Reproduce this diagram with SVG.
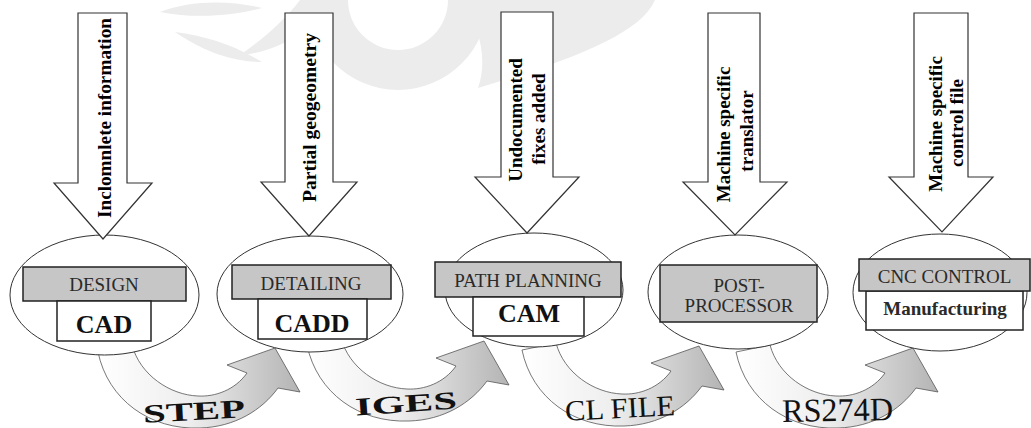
<svg xmlns="http://www.w3.org/2000/svg" width="1031" height="428" viewBox="0 0 1031 428" font-family="'Liberation Serif', 'DejaVu Serif', serif">
<defs>
<linearGradient id="flow" x1="0" y1="0" x2="1" y2="0">
<stop offset="0" stop-color="#ffffff"/>
<stop offset="0.45" stop-color="#eeeeee"/>
<stop offset="1" stop-color="#b4b4b4"/>
</linearGradient>
<path id="curve" d="M98,352 C108,400 150,430 200,428 C235,427 262,410 278,388 L300,392 L275,348 L227,365 L247,373 C235,390 215,397 198,396 C170,395 140,375 132,345 Z"/>
</defs>
<style>
.wm{fill:#ececec}
.flow{fill:url(#flow);stroke:#555;stroke-width:0.8}
.oval{fill:#fff;stroke:#333;stroke-width:1}
.gbox{fill:#c6c6c6;stroke:#222;stroke-width:1.5}
.wbox{fill:#fff;stroke:#222;stroke-width:1.5}
.inarrow{fill:#fff;stroke:#333;stroke-width:1.2}
text{font-family:'Liberation Serif','DejaVu Serif',serif}
.lbl{font-size:19px;fill:#2a2a2a;text-anchor:middle}
.big{font-size:26px;font-weight:bold;fill:#111;text-anchor:middle}
.side{font-size:19px;font-weight:bold;fill:#000;text-anchor:middle}
.flowtxt{fill:#111}
</style>

<g id="watermark">
<path class="wm" fill-rule="evenodd" d="M308,0 A90,90 0 0 0 488,0 Z M348,0 A50,50 0 0 0 448,0 Z"/>
<path class="wm" d="M460,0 L655,0 C640,35 570,60 478,88 C488,60 480,25 460,0 Z"/>
<path class="wm" d="M160,12 C190,0 230,0 262,8 C240,14 200,20 160,12 Z"/>
<path class="wm" d="M175,32 C205,36 232,44 262,62 C240,62 210,56 175,32 Z"/>
<path class="wm" d="M240,55 C262,40 285,20 300,0 L330,0 C312,30 280,52 240,55 Z"/>
</g>

<g id="connectors">
<use href="#curve" class="flow"/>
<use href="#curve" class="flow" transform="translate(209,-7)"/>
<use href="#curve" class="flow" transform="translate(424,-2)"/>
<use href="#curve" class="flow" transform="translate(638,0)"/>
<text class="flowtxt" x="143" y="420" font-size="26" font-weight="bold" textLength="102" lengthAdjust="spacingAndGlyphs" transform="rotate(-3 194 412)">STEP</text>
<text class="flowtxt" x="355" y="412" font-size="25" font-weight="bold" textLength="102" lengthAdjust="spacingAndGlyphs" transform="rotate(-4 406 404)">IGES</text>
<text class="flowtxt" x="565" y="418" font-size="29" textLength="110" lengthAdjust="spacingAndGlyphs" transform="rotate(-3 620 408)">CL FILE</text>
<text class="flowtxt" x="782" y="421" font-size="33" textLength="111" lengthAdjust="spacingAndGlyphs" transform="rotate(-1 837 410)">RS274D</text>
</g>

<g id="node-design">
<ellipse class="oval" cx="104.5" cy="295" rx="94.5" ry="60"/>
<rect class="gbox" x="23" y="267" width="163" height="34"/>
<rect class="wbox" x="57" y="301" width="94" height="40"/>
<text class="lbl" x="104" y="291">DESIGN</text>
<text class="big" x="104" y="333">CAD</text>
<polygon class="inarrow" points="78,13 127,13 127,183 152,183 103,239 54,183 78,183"/>
<text class="side" transform="translate(111,118) rotate(-90)" textLength="200" lengthAdjust="spacingAndGlyphs">Inclomnlete information</text>
</g>

<g id="node-detailing">
<ellipse class="oval" cx="310" cy="294" rx="93" ry="58"/>
<rect class="gbox" x="232" y="265" width="159" height="34"/>
<rect class="wbox" x="258" y="299" width="109" height="40"/>
<text class="lbl" x="311" y="290">DETAILING</text>
<text class="big" x="312" y="332">CADD</text>
<polygon class="inarrow" points="285,13 333,13 333,182 357,182 309,236 261,182 285,182"/>
<text class="side" font-weight="normal" font-size="20" transform="translate(316,117.5) rotate(-90)" textLength="169" lengthAdjust="spacingAndGlyphs">Partial  geogeometry</text>
</g>

<g id="node-path-planning">
<ellipse class="oval" cx="534" cy="290" rx="89" ry="57"/>
<rect class="gbox" x="435" y="262" width="186" height="35"/>
<rect class="wbox" x="473" y="297" width="111" height="39"/>
<text class="lbl" x="528" y="287">PATH PLANNING</text>
<text class="big" x="529" y="322">CAM</text>
<polygon class="inarrow" points="501,12 553,12 553,177 579,177 527,233 475,177 501,177"/>
<text class="side" transform="translate(522,120) rotate(-90)">Undocumented</text>
<text class="side" transform="translate(545,119) rotate(-90)">fixes added</text>
</g>

<g id="node-post-processor">
<ellipse class="oval" cx="738" cy="292" rx="90" ry="57"/>
<rect class="gbox" x="660" y="265" width="157" height="57"/>
<text class="lbl" x="739" y="292">POST-</text>
<text class="lbl" x="739" y="312">PROCESSOR</text>
<polygon class="inarrow" points="708,13 760,13 760,182 787,182 735,235 683,182 708,182"/>
<text class="side" transform="translate(730,134.5) rotate(-90)">Machine specific</text>
<text class="side" transform="translate(753,131) rotate(-90)">translator</text>
</g>

<g id="node-cnc-control">
<ellipse class="oval" cx="940" cy="292.5" rx="87" ry="58.5"/>
<rect class="wbox" x="866" y="291" width="157" height="39"/>
<rect class="gbox" x="859" y="259" width="171" height="32"/>
<text class="lbl" x="944.5" y="283">CNC CONTROL</text>
<text class="lbl" font-weight="bold" fill="#111" x="945" y="315">Manufacturing</text>
<polygon class="inarrow" points="914,13 968,13 968,177 993,177 942,232 889,177 914,177"/>
<text class="side" transform="translate(942,124) rotate(-90)">Machine specific</text>
<text class="side" transform="translate(963,123) rotate(-90)">control file</text>
</g>
</svg>
